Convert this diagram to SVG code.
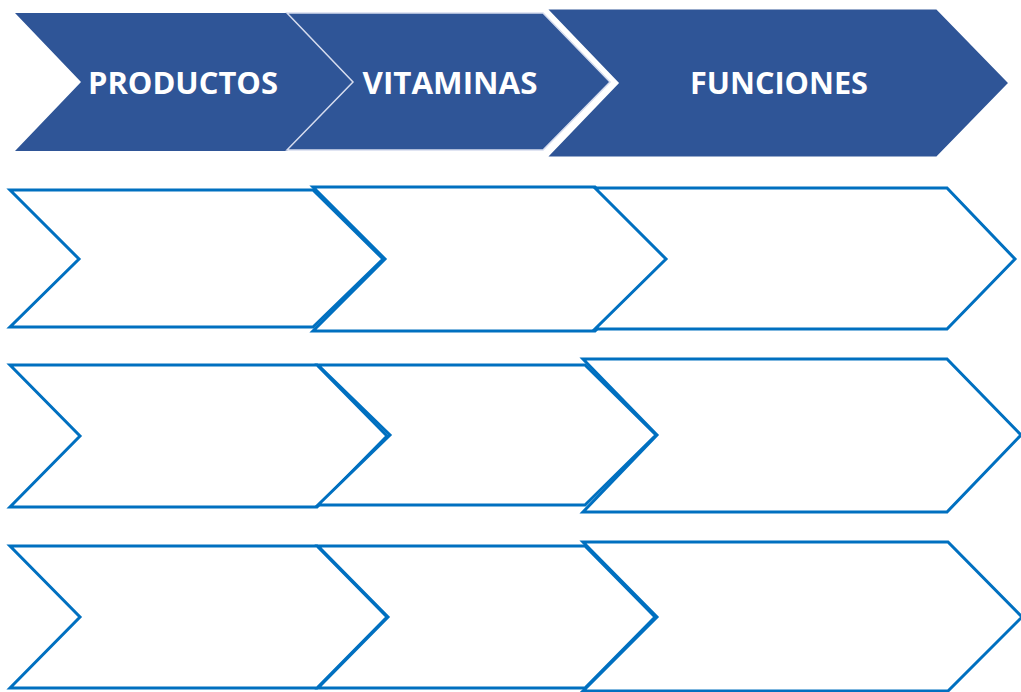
<svg xmlns="http://www.w3.org/2000/svg" width="1021" height="692" viewBox="0 0 1021 692">
<style>
.hd{fill:#2F5597}
.lbl{fill:#FFFFFF;font-family:"Open Sans","Liberation Sans",sans-serif;font-weight:bold;font-size:31px;text-anchor:middle}
.ol{fill:#FFFFFF;stroke:#0070C0;stroke-width:3;stroke-linejoin:miter}
</style>
<rect width="1021" height="692" fill="#FFFFFF"/>
<g id="header">
<g id="productos">
<polygon class="hd" points="15,13 287,13 353,82 287,151 15,151 81,82"/>
<text class="lbl" x="183" y="94" textLength="190" lengthAdjust="spacingAndGlyphs">PRODUCTOS</text>
</g>
<g id="vitaminas">
<polygon class="hd" points="287,13 543,13 610,82 543,150 287,150 353,82" stroke="#D6DCEE" stroke-width="1.5"/>
<text class="lbl" x="450" y="94" textLength="175" lengthAdjust="spacingAndGlyphs">VITAMINAS</text>
</g>
<g id="funciones">
<polygon class="hd" points="545,8 937,8 1010,83 937,158 545,158 617,83" stroke="#FFFFFF" stroke-width="3"/>
<text class="lbl" x="779" y="94" textLength="178" lengthAdjust="spacingAndGlyphs">FUNCIONES</text>
</g>
</g>
<g id="row1">
<polygon id="a1" class="ol" points="10,190 313,190 383,259 313,327 10,327 79,259"/>
<polygon id="b1" class="ol" points="313,187 595,187 667,259 595,331 313,331 385,259"/>
<polygon id="c1" class="ol" points="595,188 947,188 1015,259 947,329 595,329 666,259"/>
</g>
<g id="row2">
<polygon id="a2" class="ol" points="10,365 317,365 387,436 317,507 10,507 80,436"/>
<polygon id="b2" class="ol" points="318,365 585,365 656,435 585,505 318,505 390,435"/>
<polygon id="c2" class="ol" points="583,359 947,359 1021,435 947,512 583,512 657,435"/>
</g>
<g id="row3">
<polygon id="a3" class="ol" points="10,546 317,546 387,617 317,688 10,688 80,617"/>
<polygon id="b3" class="ol" points="318,546 585,546 655,617 585,688 318,688 388,617"/>
<polygon id="c3" class="ol" points="583,542 948,542 1022,617 948,691 583,691 657,617"/>
</g>
<g id="connectors"/>
</svg>
